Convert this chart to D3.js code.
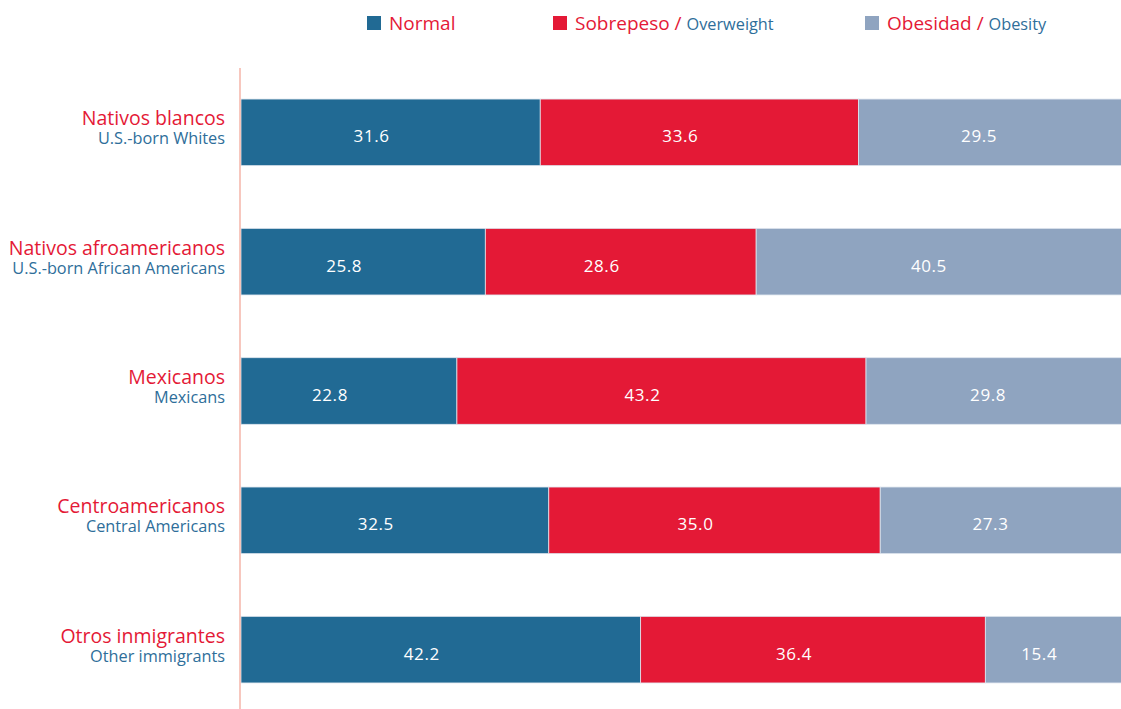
<!DOCTYPE html>
<html>
<head>
<meta charset="utf-8">
<script src="https://cdn.jsdelivr.net/npm/d3@7"></script>
<style>
  body { margin: 0; background: #fff; }
  svg { display: block; font-family: "Open Sans", Lato, sans-serif; }
</style>
</head>
<body>
<div id="chart"></div>
<script>
// groups, Spanish name + English name
const groupsEs = ["Nativos blancos", "Nativos afroamericanos", "Mexicanos", "Centroamericanos", "Otros inmigrantes"];
const groupsEn = ["U.S.-born Whites", "U.S.-born African Americans", "Mexicans", "Central Americans", "Other immigrants"];

// percentages per weight class
const normal = [31.6, 25.8, 22.8, 32.5, 42.2];
const sobrepeso = [33.6, 28.6, 43.2, 35.0, 36.4];
const obesidad = [29.5, 40.5, 29.8, 27.3, 15.4];

const seriesKeys = ["normal", "sobrepeso", "obesidad"];
const seriesEs = ["Normal", "Sobrepeso", "Obesidad"];
const seriesEn = ["", "Overweight", "Obesity"];
const seriesColors = ["#216a94", "#e41936", "#8fa4c0"];

const RED = "#e41936";
const BLUE = "#2e6e9a";

const width = 1121;
const height = 709;

const rows = groupsEs.map((g, i) => ({
    es: g, en: groupsEn[i],
    normal: normal[i], sobrepeso: sobrepeso[i], obesidad: obesidad[i]
}));

const svg = d3.select("#chart")
    .append("svg")
    .attr("width", width)
    .attr("height", height);

// bars run past the right edge of the page, as in the original
const x = d3.scaleLinear().domain([0, 100]).range([241, 1188]);
const y = d3.scaleBand().domain(groupsEs).range([68, 714]).paddingInner(0.485).paddingOuter(0.24);

const stacked = d3.stack().keys(seriesKeys)(rows);
const color = d3.scaleOrdinal().domain(seriesKeys).range(seriesColors);

const layer = svg.append("g")
    .selectAll("g")
    .data(stacked)
    .join("g")
    .attr("fill", d => color(d.key));

layer.selectAll("rect")
    .data(d => d)
    .join("rect")
    .attr("x", d => x(d[0]))
    .attr("y", d => y(d.data.es))
    .attr("width", d => x(d[1]) - x(d[0]))
    .attr("height", y.bandwidth())
    .attr("stroke", "#dfe6ee")
    .attr("stroke-width", 0.8);

// value labels
layer.selectAll("text")
    .data(d => d.map(p => ({ p, key: d.key })))
    .join("text")
    .attr("x", d => (x(d.p[0]) + x(d.p[1])) / 2 - 19)
    .attr("y", d => y(d.p.data.es) + y.bandwidth() / 2 + 10)
    .attr("text-anchor", "middle")
    .attr("fill", "#fff")
    .attr("font-size", 17)
    .attr("letter-spacing", 0.6)
    .text(d => d.p.data[d.key].toFixed(1));

// axis line
svg.append("line")
    .attr("x1", 240).attr("x2", 240)
    .attr("y1", 68).attr("y2", height)
    .attr("stroke", "#f4b5a8")
    .attr("stroke-width", 1.5);

// category labels
const cat = svg.append("g")
    .selectAll("g")
    .data(rows)
    .join("g")
    .attr("transform", d => `translate(225,${y(d.es) + y.bandwidth() / 2})`);

cat.append("text")
    .attr("text-anchor", "end")
    .attr("y", -7)
    .attr("fill", RED)
    .attr("font-size", 19.5)
    .text(d => d.es);

cat.append("text")
    .attr("text-anchor", "end")
    .attr("y", 12)
    .attr("fill", BLUE)
    .attr("font-size", 16.3)
    .text(d => d.en);

// legend
const legendX = [367, 553, 865];
const legend = svg.append("g")
    .selectAll("g")
    .data(seriesKeys)
    .join("g")
    .attr("transform", (d, i) => `translate(${legendX[i]},16)`);

legend.append("rect")
    .attr("width", 14)
    .attr("height", 14)
    .attr("fill", d => color(d));

const lt = legend.append("text")
    .attr("x", 22)
    .attr("y", 14)
    .attr("font-size", 19);

lt.append("tspan")
    .attr("fill", RED)
    .text((d, i) => seriesEs[i]);

lt.filter((d, i) => seriesEn[i] !== "")
    .append("tspan")
    .attr("fill", RED)
    .text(" /  ");

lt.filter((d, i) => seriesEn[i] !== "")
    .append("tspan")
    .attr("fill", BLUE)
    .attr("font-size", 16.3)
    .text(d => seriesEn[seriesKeys.indexOf(d)]);
</script>
</body>
</html>
